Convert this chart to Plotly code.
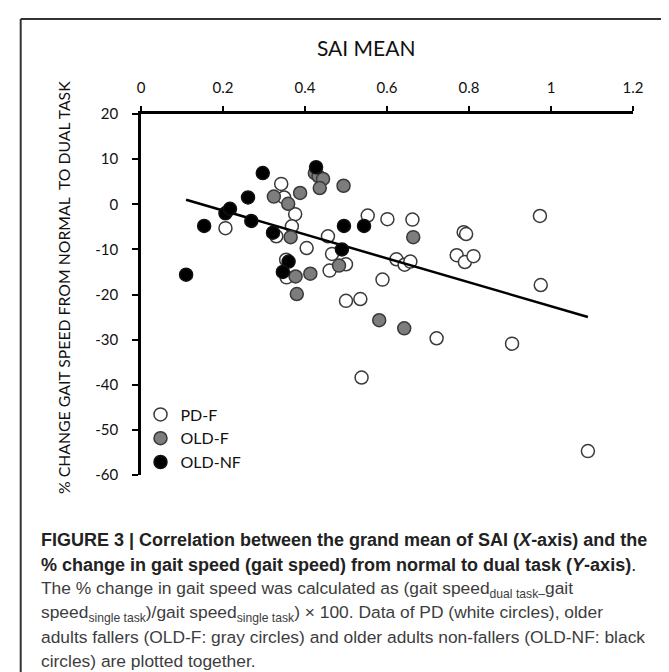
import plotly.graph_objects as go

# ---- data ----
pd_f_x = [0.206, 0.342, 0.349, 0.376, 0.368, 0.330, 0.404, 0.354, 0.355, 0.456, 0.466,
          0.460, 0.500, 0.500, 0.535, 0.553, 0.601, 0.589, 0.623, 0.643, 0.662, 0.787,
          0.793, 0.973, 0.657, 0.770, 0.790, 0.811, 0.721, 0.905, 0.975, 0.538, 1.090]
pd_f_y = [-5.3, 4.5, 1.5, -2.2, -4.9, -7.1, -9.7, -12.3, -16.2, -7.1, -11.0,
          -14.7, -13.3, -21.4, -21.0, -2.5, -3.3, -16.7, -12.2, -13.4, -3.4, -6.2,
          -6.6, -2.6, -12.7, -11.3, -12.8, -11.5, -29.7, -30.9, -17.9, -38.4, -54.7]

old_f_x = [0.324, 0.359, 0.388, 0.365, 0.377, 0.413, 0.380, 0.424, 0.433, 0.444, 0.436,
           0.494, 0.483, 0.581, 0.642, 0.664]
old_f_y = [1.7, 0.1, 2.5, -7.3, -16.0, -15.4, -19.9, 6.9, 6.2, 5.6, 3.6,
           4.1, -13.6, -25.7, -27.5, -7.3]

old_nf_x = [0.110, 0.154, 0.206, 0.217, 0.261, 0.269, 0.297, 0.322, 0.427, 0.360, 0.346,
            0.490, 0.495, 0.544]
old_nf_y = [-15.6, -4.8, -2.0, -1.0, 1.5, -3.7, 6.9, -6.3, 8.2, -12.7, -15.0,
            -10.0, -4.8, -4.8]

trend_x = [0.11, 1.09]
trend_y = [1.0, -25.0]

x_ticks = [0, 0.2, 0.4, 0.6, 0.8, 1.0, 1.2]
x_tick_labels = ["0", "0.2", "0.4", "0.6", "0.8", "1", "1.2"]
y_ticks = [20, 10, 0, -10, -20, -30, -40, -50, -60]
y_tick_labels = ["20", "10", "0", "-10", "-20", "-30", "-40", "-50", "-60"]

series_names = ["PD-F", "OLD-F", "OLD-NF"]

# ---- layout constants (pixels) ----
W, H = 669, 672
ML, MR, MT, MB = 133, 44, 106, 205
PW, PH = W - ML - MR, H - MT - MB


def px_x(px):
    return (px - ML) / PW


def px_y(py):
    return (H - MB - py) / PH


fig = go.Figure()

MS = 13
fig.add_trace(go.Scatter(
    x=pd_f_x, y=pd_f_y, mode="markers", name=series_names[0],
    marker=dict(size=MS, color="white", line=dict(color="#3a3a3a", width=1.5))))
fig.add_trace(go.Scatter(
    x=trend_x, y=trend_y, mode="lines", showlegend=False,
    line=dict(color="black", width=2.5)))
fig.add_trace(go.Scatter(
    x=old_f_x, y=old_f_y, mode="markers", name=series_names[1],
    marker=dict(size=MS, color="#7d7d7d", line=dict(color="#3a3a3a", width=1.5))))
fig.add_trace(go.Scatter(
    x=old_nf_x, y=old_nf_y, mode="markers", name=series_names[2],
    marker=dict(size=MS, color="black", line=dict(color="#111", width=1.5))))

tick_font = dict(family="Lato, sans-serif", size=15, color="#111")

fig.update_xaxes(
    side="top", range=[0, 1.2], tickvals=x_ticks, ticktext=x_tick_labels,
    showline=True, linewidth=2.5, linecolor="black", mirror=False,
    ticks="outside", ticklen=5, tickwidth=2, tickcolor="black",
    showgrid=False, zeroline=False, tickfont=tick_font, ticklabelstandoff=7)
fig.update_yaxes(
    range=[-60, 20], tickvals=y_ticks, ticktext=y_tick_labels,
    showline=True, linewidth=2.5, linecolor="black",
    ticks="outside", ticklen=6, tickwidth=2, tickcolor="black",
    showgrid=False, zeroline=False, tickfont=tick_font, ticklabelstandoff=11)

annotations = [
    dict(text="SAI MEAN", x=px_x(358), y=px_y(40), xref="paper", yref="paper",
         showarrow=False, xanchor="center", yanchor="middle",
         font=dict(family="Lato, sans-serif", size=21, color="#111")),
    dict(text="% CHANGE GAIT SPEED FROM NORMAL  TO DUAL TASK", x=px_x(55), y=px_y(280),
         xref="paper", yref="paper", showarrow=False, textangle=-90,
         xanchor="center", yanchor="middle",
         font=dict(family="Lato, sans-serif", size=15.8, color="#111")),
]

cap_bold = dict(family="Liberation Sans, Arial, sans-serif", size=18.0, color="#222")
cap_reg = dict(family="Liberation Sans, Arial, sans-serif", size=17.4, color="#3d3d3d")
caption_lines = [
    ("<b>FIGURE 3 | Correlation between the grand mean of SAI (<i>X</i>-axis) and the</b>", cap_bold, 531.7),
    ("<b>% change in gait speed (gait speed) from normal to dual task (<i>Y</i>-axis)</b>.", cap_bold, 557.3),
    ("The % change in gait speed was calculated as (gait speed<sub>dual task\u2013</sub>gait", cap_reg, 581.7),
    ("speed<sub>single task</sub>)/gait speed<sub>single task</sub>) \u00d7 100. Data of PD (white circles), older", cap_reg, 605.0),
    ("adults fallers (OLD-F: gray circles) and older adults non-fallers (OLD-NF: black", cap_reg, 629.3),
    ("circles) are plotted together.", cap_reg, 652.7),
]
for txt, f, py in caption_lines:
    annotations.append(dict(text=txt, x=px_x(30.7), y=px_y(py), xref="paper", yref="paper",
                            showarrow=False, xanchor="left", yanchor="middle", font=f))

shapes = [
    dict(type="line", xref="paper", yref="paper", x0=px_x(12.7), y0=px_y(11),
         x1=px_x(720), y1=px_y(11), line=dict(color="#333", width=2)),
    dict(type="line", xref="paper", yref="paper", x0=px_x(12.7), y0=px_y(11),
         x1=px_x(12.7), y1=px_y(720), line=dict(color="#333", width=2)),
]

fig.update_layout(
    width=W, height=H, margin=dict(l=ML, r=MR, t=MT, b=MB, autoexpand=False),
    paper_bgcolor="white", plot_bgcolor="white",
    annotations=annotations, shapes=shapes,
    legend=dict(x=px_x(132.5), y=px_y(389.5), xanchor="left", yanchor="top",
                bgcolor="rgba(0,0,0,0)", itemsizing="trace",
                font=dict(family="Lato, sans-serif", size=16, color="#111"),
                tracegroupgap=0),
)

fig.write_html("out.html")
